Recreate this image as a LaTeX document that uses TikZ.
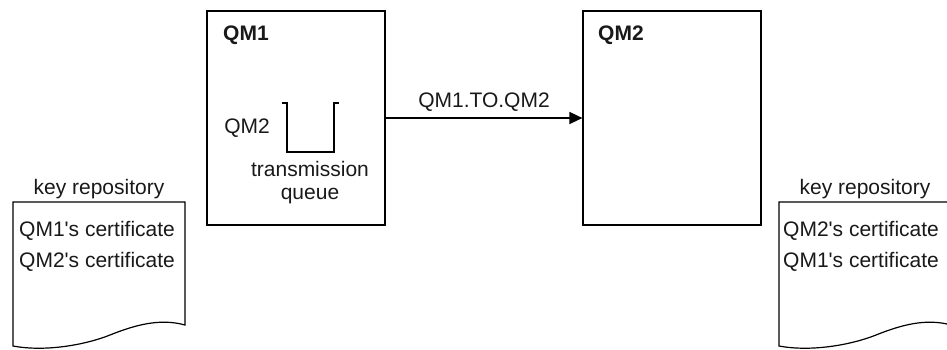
\documentclass[tikz,border=0pt]{standalone}
\usepackage{fontspec}
\newfontfamily\diagfont{Liberation Sans}
\usetikzlibrary{arrows.meta,positioning}

\begin{document}
\begin{tikzpicture}[
    x=1pt, y=-1pt,
    every node/.style={font=\diagfont\fontsize{21}{23}\selectfont, text=black!90, inner sep=0pt},
    qmbox/.style={draw, line width=1.2pt, minimum width=178pt, minimum height=214pt},
    qmname/.style={anchor=west, font=\diagfont\bfseries\fontsize{21}{23}\selectfont},
    repo/.style={draw, line width=1.2pt, fill=white},
    link/.style={-{Triangle[length=13pt, width=12pt]}, line width=1.5pt}
]
\useasboundingbox (0,0) rectangle (947,349);

% queue managers
\node[qmbox] (qm1) at (296,118) {};
\node[qmbox] (qm2) at (672,118) {};
\node[qmname] (qm1name) at (223,35) {QM1};
\node[qmname] (qm2name) at (598,35) {QM2};

% transmission queue
\draw[line width=1.2pt] (282,103) -- (287,103) -- (287,152) -- (334,152) -- (334,103) -- (339,103);
\node (xmitname) at (247,128) {QM2};
\node[align=center] (xmitq) at (310,183) {transmission\\queue};

% channel
\draw[link] (qm1) -- (qm2) node[midway, above=6pt] (chl) {QM1.TO.QM2};

% key repositories
\draw[repo] (13,346) -- (13,202) -- (185,202) -- (185,325)
    .. controls (160,318) and (135,325) .. (110,335)
    .. controls (85,345) and (45,352) .. (13,346) -- cycle;
\node (repo1) at (99,189) {key repository};
\node[anchor=west] (cert11) at (19,231) {QM1's certificate};
\node[anchor=west] (cert12) at (19,262) {QM2's certificate};

\begin{scope}[xshift=766pt]
\draw[repo] (13,346) -- (13,202) -- (185,202) -- (185,325)
    .. controls (160,318) and (135,325) .. (110,335)
    .. controls (85,345) and (45,352) .. (13,346) -- cycle;
\node (repo2) at (99,189) {key repository};
\node[anchor=west] (cert21) at (17,231) {QM2's certificate};
\node[anchor=west] (cert22) at (17,262) {QM1's certificate};
\end{scope}
\end{tikzpicture}
\end{document}
